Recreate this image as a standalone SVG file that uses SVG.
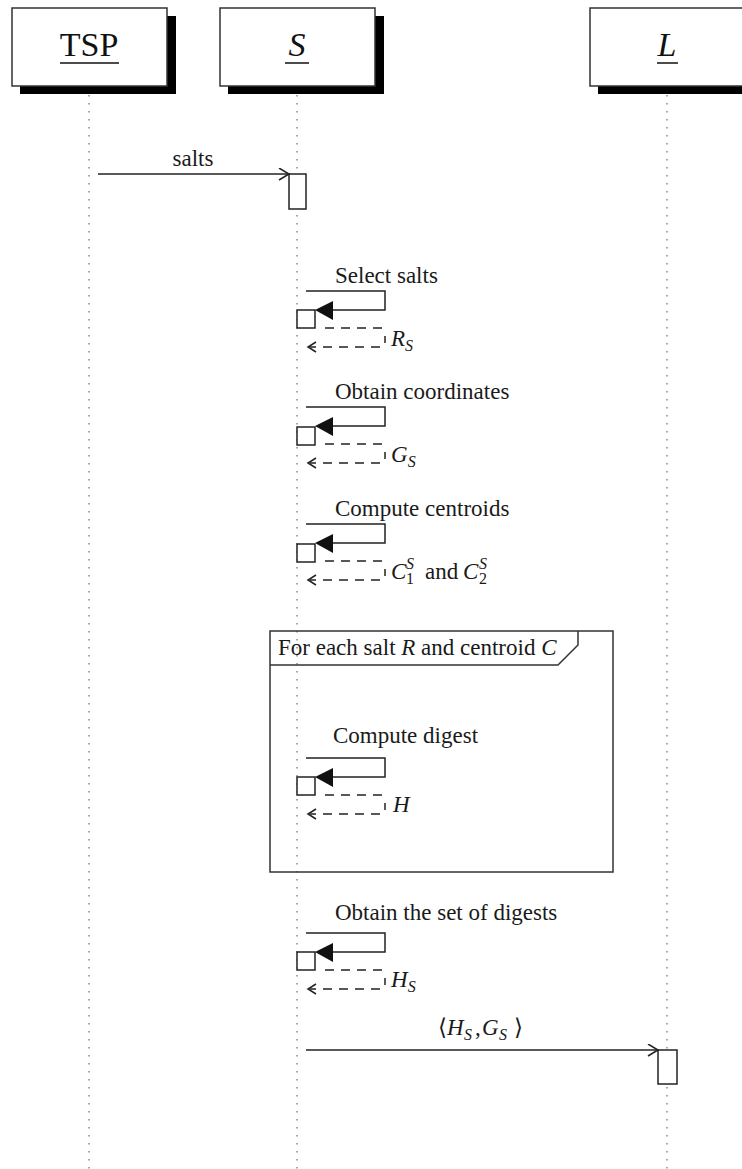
<svg xmlns="http://www.w3.org/2000/svg" width="742" height="1169" viewBox="0 0 742 1169">
<defs>
<style>
.box{fill:#fff;stroke:#333;stroke-width:1.5}
.shadow{fill:#000}
.life{stroke:#777;stroke-width:1.3;stroke-dasharray:1.5,6.5;fill:none}
.act{fill:#fff;stroke:#222;stroke-width:1.5}
.msg{stroke:#222;stroke-width:1.5;fill:none}
.dash{stroke:#222;stroke-width:1.5;fill:none;stroke-dasharray:9,7}
.head{fill:#111;stroke:none}
.t{font-family:"Liberation Serif","Times New Roman",serif;font-size:23px;fill:#1a1a1a}
.ti{font-family:"Liberation Serif","Times New Roman",serif;font-size:23px;font-style:italic;fill:#1a1a1a}
.sub{font-family:"Liberation Serif","Times New Roman",serif;font-size:16px;font-style:italic;fill:#1a1a1a}
.subn{font-family:"Liberation Serif","Times New Roman",serif;font-size:16px;fill:#1a1a1a}
.hdr{font-family:"Liberation Serif","Times New Roman",serif;font-size:34px;fill:#111}
</style>
<marker id="open" markerWidth="14" markerHeight="14" refX="11" refY="6" orient="auto" markerUnits="userSpaceOnUse">
<polyline points="1,0 11,6 1,12" fill="none" stroke="#222" stroke-width="1.5"/>
</marker>
</defs>
<rect width="742" height="1169" fill="#fff"/>

<g id="TSP">
<rect class="shadow" x="20" y="16" width="156" height="78"/>
<rect class="box" x="12" y="8" width="155" height="78"/>
<text class="hdr" x="89" y="56" text-anchor="middle">TSP</text>
<line x1="60" y1="63" x2="119" y2="63" stroke="#111" stroke-width="1.5"/>
<line class="life" x1="89" y1="95" x2="89" y2="1169"/>
</g>

<g id="S">
<rect class="shadow" x="228" y="16" width="156" height="78"/>
<rect class="box" x="220" y="8" width="155" height="78"/>
<text class="hdr" x="297" y="56" text-anchor="middle" font-style="italic">S</text>
<line x1="285" y1="63" x2="309" y2="63" stroke="#111" stroke-width="1.5"/>
<line class="life" x1="297" y1="95" x2="297" y2="1169"/>
</g>

<g id="L">
<rect class="shadow" x="598" y="16" width="156" height="78"/>
<rect class="box" x="590" y="8" width="160" height="78"/>
<text class="hdr" x="667" y="56" text-anchor="middle" font-style="italic">L</text>
<line x1="657" y1="63" x2="678" y2="63" stroke="#111" stroke-width="1.5"/>
<line class="life" x1="667" y1="95" x2="667" y2="1169"/>
</g>

<g id="loop-frame">
<rect x="270" y="631" width="343" height="241" fill="none" stroke="#333" stroke-width="1.5"/>
<path d="M270,665 H558 L578,645 V631" fill="none" stroke="#333" stroke-width="1.5"/>
<text class="t" x="278" y="655">For each salt <tspan font-style="italic">R</tspan> and centroid <tspan font-style="italic">C</tspan></text>
</g>

<g id="activations">
<rect class="act" x="289" y="174" width="17" height="35"/>
<rect class="act" x="297" y="310" width="18" height="18"/>
<rect class="act" x="297" y="427" width="18" height="18"/>
<rect class="act" x="297" y="544" width="18" height="18"/>
<rect class="act" x="297" y="777" width="18" height="18"/>
<rect class="act" x="297" y="952" width="18" height="18"/>
<rect class="act" x="658" y="1050" width="19" height="34"/>
</g>

<g id="connectors">
<line class="msg" x1="98" y1="174" x2="289" y2="174" marker-end="url(#open)"/>
<text class="t" x="193" y="166" text-anchor="middle">salts</text>

<g id="self1">
<text class="t" x="335" y="283">Select salts</text>
<polyline class="msg" points="306,291 385,291 385,310 330,310"/>
<polygon class="head" points="315,310 333,301 333,320"/>
<line class="dash" x1="325" y1="328" x2="385" y2="328"/>
<line class="msg" x1="385" y1="336" x2="385" y2="343"/>
<line class="dash" x1="380" y1="347" x2="310" y2="347"/>
<polyline class="msg" points="316,342 308,347 316,352"/>
<text class="ti" x="391" y="346">R<tspan class="sub" dy="5">S</tspan></text>
</g>

<g id="self2">
<text class="t" x="335" y="399">Obtain coordinates</text>
<polyline class="msg" points="306,407 385,407 385,426 330,426"/>
<polygon class="head" points="315,426 333,417 333,436"/>
<line class="dash" x1="325" y1="444" x2="385" y2="444"/>
<line class="msg" x1="385" y1="452" x2="385" y2="459"/>
<line class="dash" x1="380" y1="463" x2="310" y2="463"/>
<polyline class="msg" points="316,458 308,463 316,468"/>
<text class="ti" x="391" y="462">G<tspan class="sub" dy="5">S</tspan></text>
</g>

<g id="self3">
<text class="t" x="335" y="516">Compute centroids</text>
<polyline class="msg" points="306,524 385,524 385,543 330,543"/>
<polygon class="head" points="315,543 333,534 333,553"/>
<line class="dash" x1="325" y1="561" x2="385" y2="561"/>
<line class="msg" x1="385" y1="569" x2="385" y2="576"/>
<line class="dash" x1="380" y1="580" x2="310" y2="580"/>
<polyline class="msg" points="316,575 308,580 316,585"/>
<text class="ti" x="391" y="579">C</text>
<text class="sub" x="406" y="569">S</text>
<text class="subn" x="406" y="584">1</text>
<text class="t" x="425" y="579">and</text>
<text class="ti" x="463" y="579">C</text>
<text class="sub" x="479" y="569">S</text>
<text class="subn" x="479" y="584">2</text>
</g>

<g id="self4">
<text class="t" x="333" y="743">Compute digest</text>
<polyline class="msg" points="306,758 385,758 385,777 330,777"/>
<polygon class="head" points="315,777 333,768 333,787"/>
<line class="dash" x1="325" y1="795" x2="385" y2="795"/>
<line class="msg" x1="385" y1="803" x2="385" y2="810"/>
<line class="dash" x1="380" y1="814" x2="310" y2="814"/>
<polyline class="msg" points="316,809 308,814 316,819"/>
<text class="ti" x="393" y="812">H</text>
</g>

<g id="self5">
<text class="t" x="335" y="920">Obtain the set of digests</text>
<polyline class="msg" points="306,933 385,933 385,952 330,952"/>
<polygon class="head" points="315,952 333,943 333,962"/>
<line class="dash" x1="325" y1="970" x2="385" y2="970"/>
<line class="msg" x1="385" y1="978" x2="385" y2="985"/>
<line class="dash" x1="380" y1="989" x2="310" y2="989"/>
<polyline class="msg" points="316,984 308,989 316,994"/>
<text class="ti" x="391" y="987">H<tspan class="sub" dy="5">S</tspan></text>
</g>

<line class="msg" x1="306" y1="1050" x2="658" y2="1050" marker-end="url(#open)"/>
<text class="t" x="438" y="1035">⟨</text>
<text class="ti" x="447" y="1035">H</text>
<text class="sub" x="464" y="1040">S</text>
<text class="t" x="475" y="1035">,</text>
<text class="ti" x="482" y="1035">G</text>
<text class="sub" x="499" y="1040">S</text>
<text class="t" x="514" y="1035">⟩</text>
</g>
</svg>
